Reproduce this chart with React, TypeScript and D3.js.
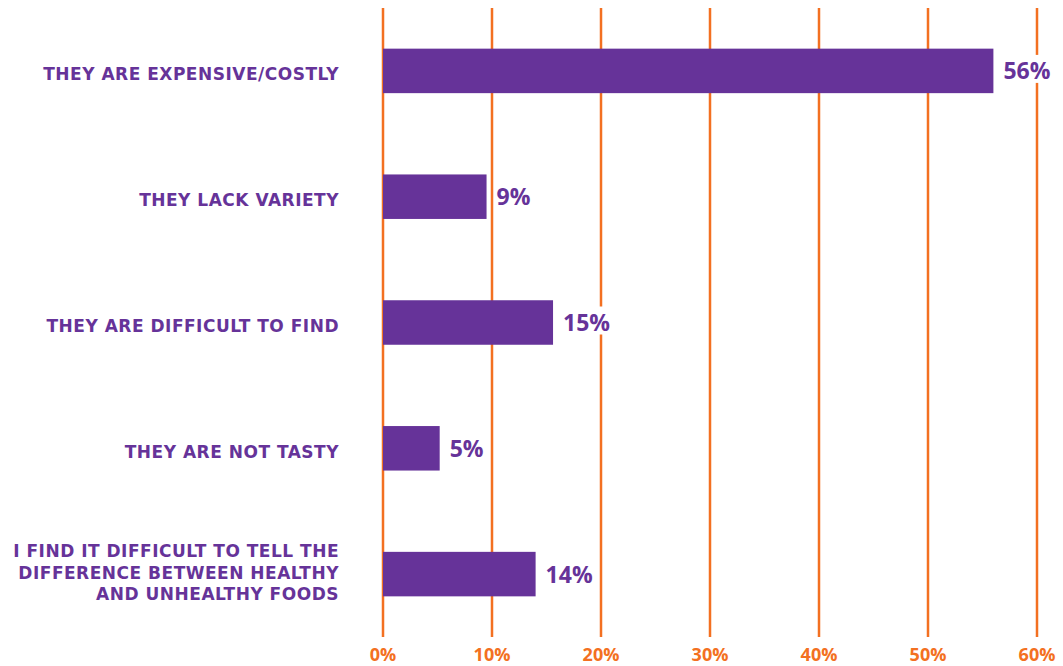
import React from "react";
import * as d3 from "d3";

const categories: string[][] = [
  ["THEY ARE EXPENSIVE/COSTLY"],
  ["THEY LACK VARIETY"],
  ["THEY ARE DIFFICULT TO FIND"],
  ["THEY ARE NOT TASTY"],
  ["I FIND IT DIFFICULT TO TELL THE", "DIFFERENCE BETWEEN HEALTHY", "AND UNHEALTHY FOODS"],
];
const values: number[] = [56, 9.5, 15.6, 5.2, 14];
const valueLabels: string[] = ["56%", "9%", "15%", "5%", "14%"];
const ticks: number[] = [0, 10, 20, 30, 40, 50, 60];

const W = 1063;
const H = 666;
const PURPLE = "#663399";
const ORANGE = "#f37021";
const FONT = "'Open Sans', sans-serif";
const CAT_FONT = "'DejaVu Sans', sans-serif";

export default function App() {
  const x = d3.scaleLinear().domain([0, 60]).range([383, 1037]);
  const y = d3
    .scalePoint<number>()
    .domain(categories.map((_, i) => i))
    .range([8, 637])
    .padding(0.5);
  const barH = 44.5;
  const gridTop = 8;
  const gridBottom = 637;

  return (
    <svg
      width={W}
      height={H}
      style={{ position: "absolute", left: 0, top: 0, background: "#fff" }}
    >
      <rect width={W} height={H} fill="#fff" />
      <g>
        {ticks.map((t) => (
          <line
            key={t}
            x1={x(t)}
            x2={x(t)}
            y1={gridTop}
            y2={gridBottom}
            stroke={ORANGE}
            strokeWidth={2.5}
          />
        ))}
        {ticks.map((t) => (
          <text
            key={"t" + t}
            x={x(t)}
            y={660.5}
            textAnchor="middle"
            fill={ORANGE}
            fontFamily={FONT}
            fontWeight={700}
            fontSize={18}
          >
            {t + "%"}
          </text>
        ))}
      </g>
      <g>
        {values.map((v, i) => {
          const cy = y(i) as number;
          return (
            <rect
              key={i}
              x={x(0)}
              y={cy - barH / 2}
              width={x(v) - x(0)}
              height={barH}
              fill={PURPLE}
            />
          );
        })}
        {values.map((v, i) => {
          const cy = y(i) as number;
          const lx = x(v) + 10;
          const w = valueLabels[i].length * 16.5;
          return (
            <g key={"l" + i}>
              <rect x={lx - 2} y={cy - 16} width={w + 4} height={28} fill="#fff" />
              <text
                x={lx}
                y={cy + 8.5}
                fill={PURPLE}
                fontFamily={FONT}
                fontWeight={700}
                fontSize={23}
              >
                {valueLabels[i]}
              </text>
            </g>
          );
        })}
      </g>
      <g>
        {categories.map((lines, i) => {
          const cy = y(i) as number;
          const lh = 21.5;
          const offset = lines.length > 1 ? 4.5 : 9.5;
          const start = cy - ((lines.length - 1) * lh) / 2 + offset;
          return (
            <text
              key={"c" + i}
              textAnchor="end"
              fill={PURPLE}
              fontFamily={CAT_FONT}
              fontWeight={700}
              fontSize={17}
              letterSpacing={0.5}
            >
              {lines.map((ln, j) => (
                <tspan key={j} x={339} y={start + j * lh}>
                  {ln}
                </tspan>
              ))}
            </text>
          );
        })}
      </g>
    </svg>
  );
}
